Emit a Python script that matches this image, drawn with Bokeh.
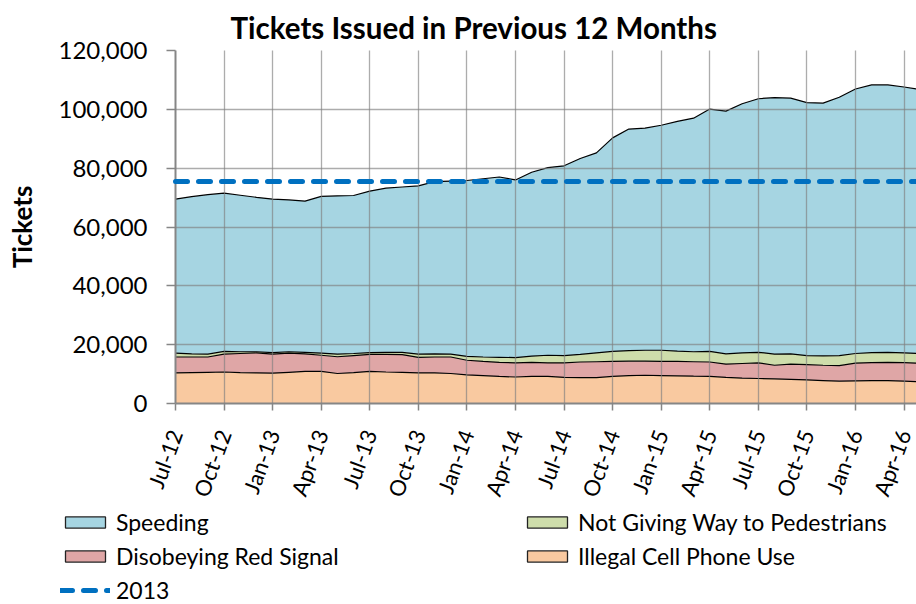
from bokeh.plotting import figure
from bokeh.models import (ColumnDataSource, FixedTicker, SingleIntervalTicker,
                          NumeralTickFormatter, Range1d, Legend, LegendItem)
from bokeh.embed import file_html
from bokeh.resources import INLINE

# ---------------- data (monthly, Jul-12 .. May-16) ----------------
tick_labels = ["Jul-12", "Oct-12", "Jan-13", "Apr-13", "Jul-13", "Oct-13",
               "Jan-14", "Apr-14", "Jul-14", "Oct-14", "Jan-15", "Apr-15",
               "Jul-15", "Oct-15", "Jan-16", "Apr-16"]

cell_phone = [10400, 10500, 10600, 10700, 10500, 10400, 10300, 10600, 10900, 10900,
              10200, 10500, 10900, 10700, 10600, 10400, 10400, 10200, 9700, 9500,
              9200, 9000, 9250, 9200, 8900, 8800, 8800, 9250, 9500, 9600,
              9500, 9400, 9300, 9250, 8900, 8600, 8500, 8400, 8200, 8000,
              7800, 7600, 7700, 7800, 7800, 7600, 7400]
red_signal = [5400, 5300, 5200, 6100, 6500, 6800, 6500, 6500, 6000, 5500,
              5700, 5800, 5800, 6000, 6000, 5300, 5400, 5600, 5000, 4800,
              4800, 4800, 4750, 4600, 4900, 5300, 5400, 5050, 4900, 4800,
              4800, 4900, 4900, 4850, 4500, 5000, 5300, 4600, 5200, 5200,
              5200, 5300, 6000, 6100, 6200, 6300, 6300]
pedestrians = [1300, 1100, 1000, 900, 600, 400, 500, 500, 500, 700,
               900, 700, 600, 700, 800, 1100, 1100, 1000, 1300, 1500,
               1700, 1800, 2100, 2600, 2500, 2600, 3000, 3400, 3600, 3700,
               3800, 3500, 3400, 3600, 3500, 3600, 3600, 3800, 3500, 3100,
               3200, 3400, 3300, 3400, 3400, 3300, 3300]
speeding = [52400, 53400, 54200, 53800, 53200, 52500, 52200, 51600, 51400, 53300,
            53800, 53700, 54900, 55800, 56200, 57200, 58500, 58800, 59800, 60600,
            61300, 60400, 62500, 63800, 64500, 66600, 68000, 72600, 75300, 75500,
            76500, 78100, 79400, 82400, 82500, 84700, 86200, 87200, 86900, 86000,
            85900, 87800, 89900, 91000, 90900, 90400, 89700]
target_2013 = 75500

series_names = ["Illegal Cell Phone Use", "Disobeying Red Signal",
                "Not Giving Way to Pedestrians", "Speeding"]
series_colors = ["#F9C9A0", "#DFA6A6", "#CEDDAB", "#A6D5E2"]
line_2013_color = "#0070C0"

# ---------------- source ----------------
x = list(range(len(speeding)))
src = ColumnDataSource(dict(x=x, cell=cell_phone, red=red_signal,
                            ped=pedestrians, speed=speeding,
                            t2013=[target_2013] * len(x)))
stackers = ["cell", "red", "ped", "speed"]

FONT = "Lato"

p = figure(width=916, height=508, output_backend="svg", toolbar_location=None,
           x_range=Range1d(0, 45.77), y_range=Range1d(0, 120000),
           min_border_left=175, min_border_right=0, min_border_top=50,
           min_border_bottom=104)
p.outline_line_color = None

p.title.text = "Tickets Issued in Previous 12 Months"
p.title.align = "left"
p.title.offset = 55
p.title.standoff = 12
p.title.text_line_height = 1.0
p.title.text_font = FONT
p.title.text_font_size = "29.5px"
p.title.text_font_style = "bold"
p.title.text_color = "black"

# areas
p.varea_stack(stackers=stackers, x="x", color=series_colors, source=src)
tops = p.vline_stack(stackers=stackers, x="x", source=src,
                     line_color="black", line_width=1.2)

# 2013 reference line
l2013 = p.line(x="x", y="t2013", source=src, line_color=line_2013_color,
               line_width=5, line_dash="12 11", line_cap="round")
l2013.level = "annotation"

# axes
p.yaxis.ticker = SingleIntervalTicker(interval=20000)
p.yaxis.formatter = NumeralTickFormatter(format="0,0")
p.yaxis.axis_label = "Tickets"
p.yaxis.axis_label_text_font = FONT
p.yaxis.axis_label_text_font_size = "26px"
p.yaxis.axis_label_text_font_style = "bold"
p.yaxis.axis_label_text_color = "black"
p.yaxis.axis_label_standoff = 18

ticks = [3 * i for i in range(len(tick_labels))]
p.xaxis.ticker = FixedTicker(ticks=ticks)
p.xaxis.major_label_overrides = {t: lbl for t, lbl in zip(ticks, tick_labels)}
p.xaxis.major_label_orientation = 1.22

for ax in (p.xaxis[0], p.yaxis[0]):
    ax.axis_line_color = "#868686"
    ax.axis_line_width = 2
    ax.major_tick_line_color = "#868686"
    ax.major_tick_line_width = 1.5
    ax.major_tick_in = 0
    ax.minor_tick_line_color = None
    ax.major_label_text_font = FONT
    ax.major_label_text_color = "black"
p.yaxis.major_tick_out = 9
p.yaxis.major_label_text_font_size = "24px"
p.yaxis.major_label_standoff = 19
p.xaxis.major_tick_out = 7
p.xaxis.major_label_text_font_size = "22px"
p.xaxis.major_label_standoff = 20

# grid on top of areas
for g in (p.xgrid[0], p.ygrid[0]):
    g.grid_line_color = "#7F7F7F"
    g.grid_line_alpha = 0.65
    g.grid_line_width = 1.3
    g.level = "guide"

# ---------------- legend panel (separate root below the chart) ----------------
lg = figure(width=916, height=96, output_backend="svg", toolbar_location=None,
            x_axis_type=None, y_axis_type=None,
            x_range=Range1d(0, 1), y_range=Range1d(0, 1),
            min_border_left=0, min_border_right=0, min_border_top=0,
            min_border_bottom=0)
lg.outline_line_color = None
lg.xgrid.visible = False
lg.ygrid.visible = False

nan = float("nan")
swatch = {}
for name, col in zip(series_names, series_colors):
    swatch[name] = lg.quad(left=[nan], right=[nan], top=[nan], bottom=[nan],
                           fill_color=col, line_color="#222222", line_width=1.3)
sw2013 = lg.line(x=[nan, nan], y=[nan, nan], line_color=line_2013_color,
                 line_width=5, line_dash="12 11", line_cap="round")

common = dict(orientation="vertical", glyph_width=50, glyph_height=14,
              label_standoff=6, spacing=6, padding=0, margin=0,
              border_line_color=None, background_fill_alpha=0,
              label_text_font=FONT, label_text_font_size="23px",
              label_text_color="black", label_height=28)
legA = Legend(items=[LegendItem(label="Speeding", renderers=[swatch["Speeding"]]),
                     LegendItem(label="Disobeying Red Signal",
                                renderers=[swatch["Disobeying Red Signal"]]),
                     LegendItem(label="2013", renderers=[sw2013])],
              location=(60, 0), **common)
legB = Legend(items=[LegendItem(label="Not Giving Way to Pedestrians",
                                renderers=[swatch["Not Giving Way to Pedestrians"]]),
                     LegendItem(label="Illegal Cell Phone Use",
                                renderers=[swatch["Illegal Cell Phone Use"]])],
              location=(522, 34), **common)
lg.add_layout(legA)
lg.add_layout(legB)

open("out.html", "w").write(file_html([p, lg], INLINE))
